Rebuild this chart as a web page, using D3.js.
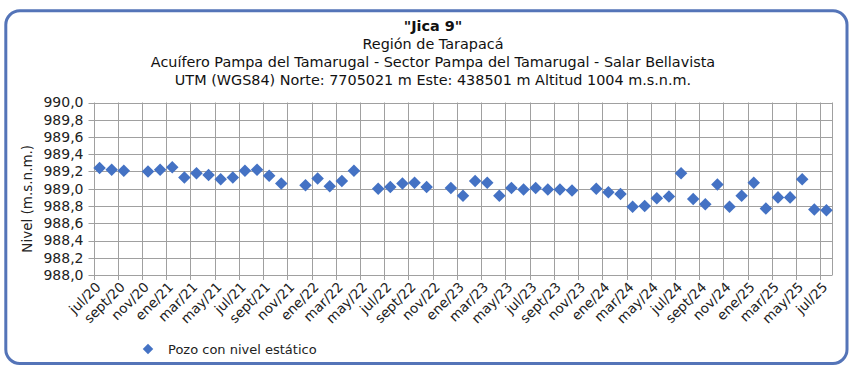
<!DOCTYPE html>
<html>
<head>
<meta charset="utf-8">
<script src="https://cdn.jsdelivr.net/npm/d3@7"></script>
<style>
  body { margin: 0; background: #fff; }
  svg { display: block; font-family: "DejaVu Sans", Verdana, sans-serif; }
</style>
</head>
<body>
<div id="chart"></div>
<script>
// Titles
const titulos = [
    "\"Jica 9\"",
    "Región de Tarapacá",
    "Acuífero Pampa del Tamarugal - Sector Pampa del Tamarugal - Salar Bellavista",
    "UTM (WGS84) Norte: 7705021 m Este: 438501 m Altitud 1004 m.s.n.m."
];

// measurement months (yyyy-mm) and static level (m.s.n.m.)
const fechas = [
    "2020-07", "2020-08", "2020-09", "2020-11", "2020-12",
    "2021-01", "2021-02", "2021-03", "2021-04", "2021-05", "2021-06",
    "2021-07", "2021-08", "2021-09", "2021-10", "2021-12",
    "2022-01", "2022-02", "2022-03", "2022-04", "2022-06",
    "2022-07", "2022-08", "2022-09", "2022-10", "2022-12",
    "2023-01", "2023-02", "2023-03", "2023-04", "2023-05", "2023-06",
    "2023-07", "2023-08", "2023-09", "2023-10", "2023-12",
    "2024-01", "2024-02", "2024-03", "2024-04", "2024-05", "2024-06",
    "2024-07", "2024-08", "2024-09", "2024-10", "2024-11", "2024-12",
    "2025-01", "2025-02", "2025-03", "2025-04", "2025-05", "2025-06", "2025-07"
];
const niveles = [
    989.24, 989.22, 989.21, 989.20, 989.22,
    989.25, 989.13, 989.18, 989.16, 989.11, 989.13,
    989.21, 989.22, 989.15, 989.06, 989.04,
    989.12, 989.03, 989.09, 989.21, 989.00,
    989.02, 989.06, 989.07, 989.02, 989.01,
    988.92, 989.09, 989.07, 988.92, 989.01, 988.99,
    989.01, 988.99, 988.99, 988.98, 989.00,
    988.96, 988.94, 988.79, 988.80, 988.89, 988.91,
    989.18, 988.88, 988.82, 989.05, 988.79, 988.92,
    989.07, 988.77, 988.90, 988.90, 989.11, 988.76, 988.75
];

// x axis tick labels (every two months)
const etiquetas = [
    "jul/20", "sept/20", "nov/20", "ene/21", "mar/21", "may/21",
    "jul/21", "sept/21", "nov/21", "ene/22", "mar/22", "may/22",
    "jul/22", "sept/22", "nov/22", "ene/23", "mar/23", "may/23",
    "jul/23", "sept/23", "nov/23", "ene/24", "mar/24", "may/24",
    "jul/24", "sept/24", "nov/24", "ene/25", "mar/25", "may/25", "jul/25"
];
const yTicks = [988.0, 988.2, 988.4, 988.6, 988.8, 989.0, 989.2, 989.4, 989.6, 989.8, 990.0];

const width = 859, height = 370;
const margin = { left: 93.5, right: 859 - 832.5, top: 102.5, bottom: 370 - 275 };
const blue = "#4472c4";
const grid = "#a0a0a0";

const fmtMes = d3.timeFormat("%Y-%m");
const meses = d3.timeMonth.range(new Date(2020, 6, 1), new Date(2025, 7, 1)).map(fmtMes);

const data = fechas.map((f, i) => ({ fecha: f, nivel: niveles[i] }));

const x = d3.scaleBand()
    .domain(meses)
    .range([margin.left, width - margin.right]);

const y = d3.scaleLinear()
    .domain([988, 990])
    .range([height - margin.bottom, margin.top]);

const svg = d3.select("#chart").append("svg")
    .attr("width", width)
    .attr("height", height);

// Outer frame
svg.append("rect")
    .attr("x", 5.8).attr("y", 10.8)
    .attr("width", 841.2).attr("height", 352.7)
    .attr("rx", 14).attr("ry", 14)
    .attr("fill", "#fff")
    .attr("stroke", "#5474b8")
    .attr("stroke-width", 3);

// Titles
svg.append("g")
    .attr("text-anchor", "middle")
    .selectAll("text")
    .data(titulos)
    .join("text")
    .attr("x", 433)
    .attr("y", (d, i) => 31 + i * 18)
    .style("font-size", "14.4px")
    .style("font-weight", (d, i) => i === 0 ? "bold" : "normal")
    .attr("fill", "#111")
    .text(d => d);

// tick positions: start of every other month
const tickMeses = meses.filter((m, i) => i % 2 === 0);

// Grid
svg.append("g")
    .selectAll("line")
    .data(yTicks)
    .join("line")
    .attr("x1", margin.left - 5)
    .attr("x2", width - margin.right)
    .attr("y1", d => Math.round(y(d)) + 0.5)
    .attr("y2", d => Math.round(y(d)) + 0.5)
    .attr("stroke", grid);

svg.append("g")
    .selectAll("line")
    .data(tickMeses)
    .join("line")
    .attr("x1", d => Math.round(x(d)) + 0.5)
    .attr("x2", d => Math.round(x(d)) + 0.5)
    .attr("y1", margin.top)
    .attr("y2", height - margin.bottom + 5)
    .attr("stroke", grid);

svg.append("line")
    .attr("x1", width - margin.right).attr("x2", width - margin.right)
    .attr("y1", margin.top).attr("y2", height - margin.bottom)
    .attr("stroke", grid);

// Y labels
svg.append("g")
    .attr("text-anchor", "end")
    .selectAll("text")
    .data(yTicks)
    .join("text")
    .attr("x", margin.left - 10)
    .attr("y", d => y(d))
    .attr("dy", "0.35em")
    .style("font-size", "14px")
    .attr("fill", "#222")
    .text(d => d3.format(".1f")(d).replace(".", ","));

// Y title
svg.append("text")
    .attr("transform", `translate(32, ${(margin.top + height - margin.bottom) / 2 + 10}) rotate(-90)`)
    .attr("text-anchor", "middle")
    .style("font-size", "13.5px")
    .attr("fill", "#222")
    .text("Nivel (m.s.n.m.)");

// X labels
svg.append("g")
    .attr("text-anchor", "end")
    .selectAll("text")
    .data(tickMeses)
    .join("text")
    .attr("transform", d => `translate(${x(d) + 8}, ${height - margin.bottom + 13}) rotate(-45)`)
    .style("font-size", "13.5px")
    .attr("fill", "#222")
    .text((d, i) => etiquetas[i]);

// Points
const diamond = d3.symbol().type(d3.symbolDiamond2).size(100);
svg.append("g")
    .selectAll("path")
    .data(data)
    .join("path")
    .attr("transform", d => `translate(${x(d.fecha) + x.bandwidth() / 2}, ${y(d.nivel)})`)
    .attr("d", diamond)
    .attr("fill", blue);

// Legend
svg.append("path")
    .attr("transform", "translate(148, 349)")
    .attr("d", d3.symbol().type(d3.symbolDiamond2).size(70))
    .attr("fill", blue);
svg.append("text")
    .attr("x", 168).attr("y", 354)
    .style("font-size", "13px")
    .attr("fill", "#222")
    .text("Pozo con nivel estático");
</script>
</body>
</html>
